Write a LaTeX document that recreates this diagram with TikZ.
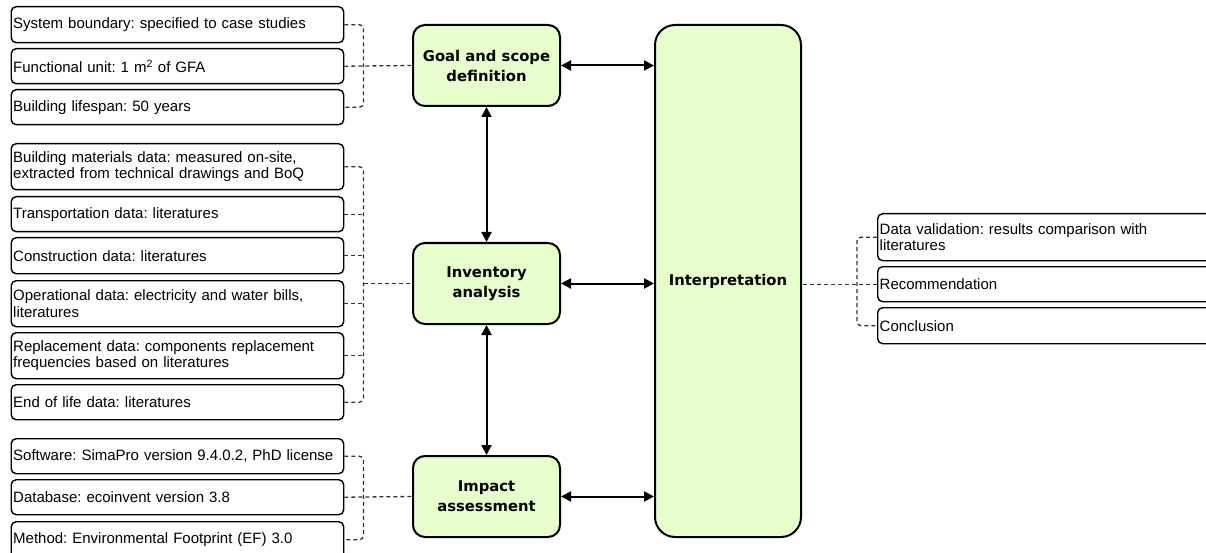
\documentclass[tikz,border=0pt]{standalone}
\usepackage{fontspec}
\setmainfont{Liberation Sans}
\newfontfamily\boxfont{DejaVu Sans}
\usetikzlibrary{arrows.meta}
\definecolor{boxgreen}{HTML}{E6FFCC}
\frenchspacing
\begin{document}
\begin{tikzpicture}[x=1pt,y=-1pt,
  info/.style={draw, line width=1.4pt, rounded corners=5pt, anchor=north west,
    inner xsep=2pt, inner ysep=0pt, align=left, font=\fontsize{15}{16.5}\selectfont},
  lbox/.style={info, text width=328.5pt},
  rbox/.style={info, text width=336pt},
  mainbox/.style={draw, line width=2pt, fill=boxgreen, rounded corners=12pt,
    minimum width=147pt, minimum height=81pt, align=center, inner sep=0pt,
    font=\boxfont\bfseries\fontsize{14.8}{20}\selectfont},
  link/.style={line width=1.3pt, dash pattern=on 4pt off 3pt, draw=black!80},
  arr/.style={line width=2pt, {Triangle[length=10pt,width=10pt]}-{Triangle[length=10pt,width=10pt]}}
]
\useasboundingbox (0,0) rectangle (1206,553);
\fill[white] (0,0) rectangle (1206,553);

% main boxes
\node[mainbox] (goal) at (486.5,65.5) {Goal and scope\\definition};
\node[mainbox] (inv) at (486.5,283.5) {Inventory\\analysis};
\node[mainbox] (imp) at (486.5,496.5) {Impact\\assessment};
\node[mainbox, rounded corners=20pt, minimum width=146pt, minimum height=512pt] (interp) at (728,281) {Interpretation};

% left group 1
\node[lbox, minimum height=36pt] (s1) at (10.5,6) {System boundary: specified to case studies};
\node[lbox, minimum height=35pt] (s2) at (10.5,48) {Functional unit: 1 m\textsuperscript{2} of GFA};
\node[lbox, minimum height=35pt] (s3) at (10.5,89) {Building lifespan: 50 years};

% left group 2
\node[lbox, minimum height=46pt] (i1) at (10.5,143) {Building materials data: measured on-site,\\extracted from technical drawings and BoQ};
\node[lbox, minimum height=35pt] (i2) at (10.5,196) {Transportation data: literatures};
\node[lbox, minimum height=36pt] (i3) at (10.5,237) {Construction data: literatures};
\node[lbox, minimum height=46pt] (i4) at (10.5,280) {Operational data: electricity and water bills,\\literatures};
\node[lbox, minimum height=46pt] (i5) at (10.5,332) {Replacement data: components replacement\\frequencies based on literatures};
\node[lbox, minimum height=35pt] (i6) at (10.5,384) {End of life data: literatures};

% left group 3
\node[lbox, minimum height=35pt] (m1) at (10.5,438) {Software: SimaPro version 9.4.0.2, PhD license};
\node[lbox, minimum height=35pt] (m2) at (10.5,479) {Database: ecoinvent version 3.8};
\node[lbox, minimum height=36pt] (m3) at (10.5,521) {Method: Environmental Footprint (EF) 3.0};

% right group
\node[rbox, minimum height=47pt] (r1) at (877,213) {Data validation: results comparison with\\literatures};
\node[rbox, minimum height=35pt] (r2) at (877,266) {Recommendation};
\node[rbox, minimum height=36pt] (r3) at (877,307) {Conclusion};

% bracket coordinates
\coordinate (bl) at (363.5,0);
\coordinate (br) at (857,0);

% group 1 brackets
\draw[link, rounded corners=4pt] (s1.east) -- (s1.east -| bl) -- (s3.east -| bl) -- (s3.east);
\draw[link] (s2.east) -- (goal.west);

% group 2 brackets
\draw[link, rounded corners=4pt] (i1.east) -- (i1.east -| bl) -- (i6.east -| bl) -- (i6.east);
\foreach \n in {i2,i3,i4,i5} \draw[link] (\n.east) -- (\n.east -| bl);
\draw[link] (inv.west -| bl) -- (inv.west);

% group 3 brackets
\draw[link, rounded corners=4pt] (m1.east) -- (m1.east -| bl) -- (m3.east -| bl) -- (m3.east);
\draw[link] (m2.east) -- (imp.west);

% right brackets
\draw[link, rounded corners=4pt] (r1.west) -- (r1.west -| br) -- (r3.west -| br) -- (r3.west);
\draw[link] (r2.west) -- (r2.west -| interp.east);

% arrows
\draw[arr] (goal.east) -- (goal.east -| interp.west);
\draw[arr] (inv.east) -- (inv.east -| interp.west);
\draw[arr] (imp.east) -- (imp.east -| interp.west);
\draw[arr] (goal.south) -- (inv.north);
\draw[arr] (inv.south) -- (imp.north);
\end{tikzpicture}
\end{document}
